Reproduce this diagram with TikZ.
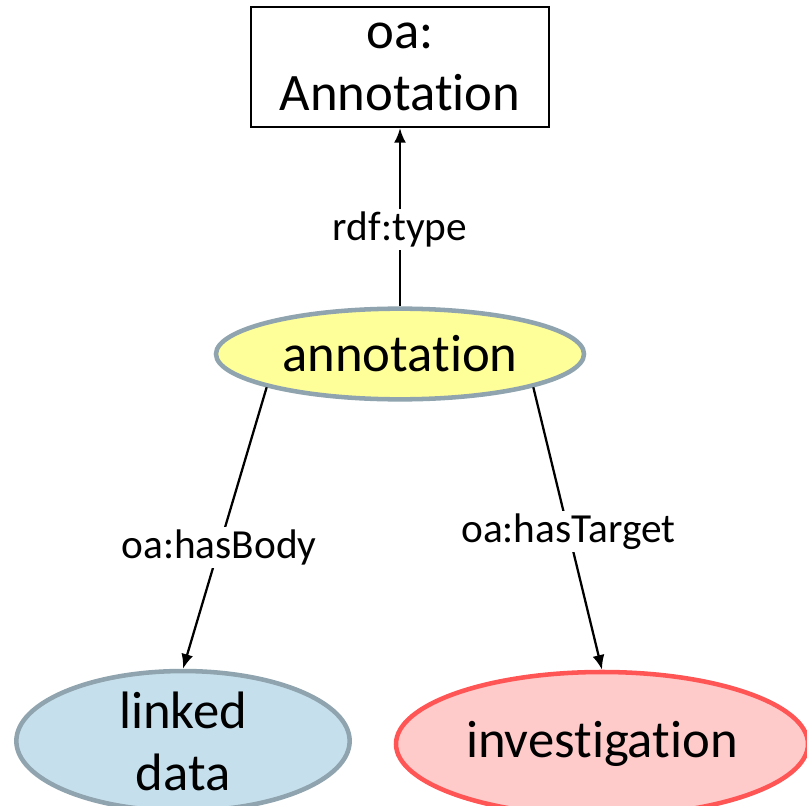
\documentclass[tikz,border=0pt]{standalone}
\usepackage{fontspec}
\setmainfont{Carlito}[Ligatures=NoCommon]
\usetikzlibrary{arrows.meta,shapes.geometric}
\definecolor{rimgray}{HTML}{8FA4AE}
\definecolor{annofill}{HTML}{FFFF99}
\definecolor{bodyfill}{HTML}{C5E0EC}
\definecolor{targetfill}{HTML}{FFCACA}
\definecolor{targetrim}{HTML}{FF5555}
\begin{document}
\begin{tikzpicture}[x=0.75pt, y=-0.75pt,
    bigtext/.style = {font=\fontsize{39.5}{46.5}\selectfont, align=center},
    classbox/.style = {draw, line width=1.6pt, rectangle, minimum width=224pt, minimum height=90pt, inner sep=0pt, bigtext},
    resource/.style = {ellipse, line width=3.4pt, inner sep=0pt, bigtext},
    lbl/.style = {fill=white, inner sep=2pt, font=\fontsize{31}{37}\selectfont},
    arc/.style = {line width=1.7pt, -{Latex[length=11pt, width=9pt]}}]
    \useasboundingbox (0, 0) rectangle (807, 806);
    \clip (0, 0) rectangle (807, 806);
    \node [classbox] (cls) at (400, 67) {oa:\\Annotation};
    \node [resource, draw=rimgray, fill=annofill, minimum width=276pt, minimum height=68pt] (annotation) at (400, 354) {annotation};
    \node [resource, draw=rimgray, fill=bodyfill, minimum width=250pt, minimum height=104pt] (linked) at (183, 741) {linked\\data};
    \node [resource, draw=targetrim, fill=targetfill, minimum width=309pt, minimum height=108pt] (investigation) at (602, 744) {investigation};
    \draw [arc] (annotation.north) -- node [lbl, pos=0.43] {rdf:type} (cls.south);
    \draw [arc] (annotation.194) -- node [lbl, pos=0.57] {oa:hasBody} (linked.north);
    \draw [arc] (annotation.346) -- node [lbl, pos=0.51] {oa:hasTarget} (investigation.north);
\end{tikzpicture}
\end{document}
